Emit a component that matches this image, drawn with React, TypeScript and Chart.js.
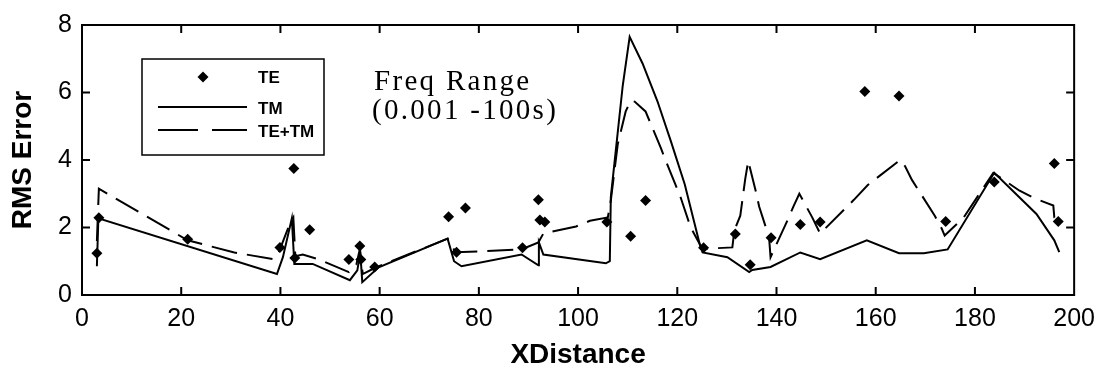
import React, { useEffect, useRef } from "react";
import { Chart, registerables } from "chart.js";

Chart.register(...registerables);

// Axis ticks
const X_TICKS = [0, 20, 40, 60, 80, 100, 120, 140, 160, 180, 200];
const Y_TICKS = [0, 2, 4, 6, 8];

// TE: individual RMS error markers
const TE_X = [3.0, 3.4, 21.3, 39.9, 42.7, 42.9, 45.9, 53.8, 56.0, 56.2, 59.0, 73.9, 75.5, 77.3, 88.8, 92.0, 92.3, 93.3, 105.8, 110.6, 113.6, 125.3, 131.7, 134.7, 138.9, 144.8, 148.8, 157.8, 164.7, 174.1, 183.9, 196.0, 196.8];
const TE_Y = [1.24, 2.29, 1.65, 1.41, 3.75, 1.1, 1.93, 1.05, 1.45, 1.05, 0.83, 2.32, 1.27, 2.58, 1.4, 2.82, 2.22, 2.16, 2.16, 1.74, 2.8, 1.4, 1.81, 0.9, 1.7, 2.09, 2.16, 6.03, 5.9, 2.18, 3.35, 3.9, 2.18];

// TM: solid line
const TM_X = [3.0, 3.3, 39.3, 40.5, 42.3, 42.8, 46.5, 54.0, 55.5, 56.1, 56.5, 59.8, 73.7, 75.0, 76.5, 88.6, 92.0, 92.1, 93.0, 105.6, 106.4, 106.6, 109.0, 110.4, 113.0, 116.0, 118.7, 121.5, 124.5, 125.1, 130.1, 134.5, 135.1, 138.8, 144.8, 148.8, 158.2, 164.7, 169.7, 174.5, 183.9, 192.4, 196.0, 197.0];
const TM_Y = [0.85, 2.27, 0.62, 1.12, 2.27, 0.92, 0.92, 0.44, 0.73, 1.25, 0.38, 0.82, 1.67, 1.0, 0.85, 1.2, 0.88, 1.56, 1.2, 0.94, 1.0, 2.9, 6.2, 7.65, 6.86, 5.74, 4.56, 3.28, 1.52, 1.26, 1.12, 0.68, 0.74, 0.83, 1.26, 1.06, 1.62, 1.24, 1.24, 1.35, 3.62, 2.4, 1.62, 1.27];

// TE+TM: dashed line
const TETM_X = [3.0, 3.4, 21.3, 30.7, 38.6, 39.5, 42.0, 42.6, 43.0, 44.5, 47.8, 53.8, 55.3, 56.0, 56.6, 59.0, 73.7, 75.3, 81.5, 88.6, 92.0, 93.0, 99.6, 102.4, 106.0, 106.6, 108.0, 109.6, 110.6, 111.4, 113.6, 116.7, 117.7, 120.7, 122.7, 125.0, 127.0, 131.1, 131.5, 132.7, 133.7, 134.3, 135.9, 136.5, 138.5, 138.8, 142.2, 143.4, 144.6, 147.2, 148.8, 155.6, 158.4, 164.9, 165.9, 167.3, 171.9, 173.3, 173.9, 177.7, 183.7, 189.0, 191.8, 195.8, 196.0, 196.8];
const TETM_Y = [1.6, 3.15, 1.62, 1.26, 1.06, 1.2, 2.15, 2.3, 1.15, 1.2, 1.05, 0.68, 0.9, 1.35, 0.62, 0.8, 1.67, 1.27, 1.3, 1.35, 1.56, 1.82, 2.03, 2.2, 2.3, 2.8, 4.47, 5.44, 5.76, 5.73, 5.44, 4.35, 3.97, 2.88, 2.0, 1.38, 1.38, 1.41, 1.91, 2.35, 3.44, 3.97, 3.03, 2.62, 1.71, 1.12, 2.21, 2.62, 3.0, 2.3, 1.82, 2.82, 3.26, 4.0, 3.82, 3.41, 2.35, 1.97, 1.76, 2.29, 3.62, 3.09, 2.88, 2.65, 2.3, 2.2];

const SANS = "'Liberation Sans', Arial, sans-serif";
const SERIF = "'Liberation Serif', 'Times New Roman', serif";

const pairs = (xs: number[], ys: number[]) => xs.map((x, i) => ({ x, y: ys[i] }));

// Boxed frame with inward ticks, inset legend and the range note
const decorPlugin = {
  id: "decor",
  afterDatasetsDraw(chart: any) {
    const { ctx, chartArea: a, scales } = chart;
    const xs = scales.x;
    const ys = scales.y;
    ctx.save();
    ctx.strokeStyle = "#000";
    ctx.lineWidth = 2;
    ctx.strokeRect(a.left, a.top, a.right - a.left, a.bottom - a.top);

    const T = 8;
    ctx.beginPath();
    X_TICKS.slice(1, -1).forEach((v) => {
      const px = xs.getPixelForValue(v);
      ctx.moveTo(px, a.bottom);
      ctx.lineTo(px, a.bottom - T);
      ctx.moveTo(px, a.top);
      ctx.lineTo(px, a.top + T);
    });
    Y_TICKS.slice(1, -1).forEach((v) => {
      const py = ys.getPixelForValue(v);
      ctx.moveTo(a.left, py);
      ctx.lineTo(a.left + T, py);
      ctx.moveTo(a.right, py);
      ctx.lineTo(a.right - T, py);
    });
    ctx.stroke();

    // legend box
    const bx = 142, by = 59, bw = 182, bh = 96;
    ctx.fillStyle = "#fff";
    ctx.fillRect(bx, by, bw, bh);
    ctx.lineWidth = 1.5;
    ctx.strokeRect(bx, by, bw, bh);

    ctx.fillStyle = "#000";
    const dx = 203, dy = 77, r = 5.5;
    ctx.beginPath();
    ctx.moveTo(dx, dy - r);
    ctx.lineTo(dx + r, dy);
    ctx.lineTo(dx, dy + r);
    ctx.lineTo(dx - r, dy);
    ctx.closePath();
    ctx.fill();

    ctx.lineWidth = 2;
    ctx.beginPath();
    ctx.moveTo(158, 107);
    ctx.lineTo(247, 107);
    ctx.stroke();
    ctx.setLineDash([40, 14]);
    ctx.beginPath();
    ctx.moveTo(158, 130);
    ctx.lineTo(247, 130);
    ctx.stroke();
    ctx.setLineDash([]);

    ctx.font = `bold 17px ${SANS}`;
    ctx.textAlign = "left";
    ctx.textBaseline = "middle";
    ctx.fillText("TE", 258, 78);
    ctx.fillText("TM", 258, 109);
    ctx.fillText("TE+TM", 258, 132);

    // frequency range note
    ctx.font = `29px ${SERIF}`;
    (ctx as any).letterSpacing = "2.3px";
    ctx.textBaseline = "alphabetic";
    ctx.fillText("Freq Range", 374, 90);
    ctx.fillText("(0.001 -100s)", 372, 119);
    (ctx as any).letterSpacing = "0px";
    ctx.restore();
  },
};

export default function App() {
  const canvasRef = useRef<HTMLCanvasElement | null>(null);

  useEffect(() => {
    if (!canvasRef.current) return;
    const chart = new Chart(canvasRef.current, {
      type: "scatter",
      data: {
        datasets: [
          {
            label: "TE",
            data: pairs(TE_X, TE_Y),
            showLine: false,
            pointStyle: "rectRot",
            pointRadius: 5.5,
            backgroundColor: "#000",
            borderWidth: 0,
          },
          {
            label: "TM",
            data: pairs(TM_X, TM_Y),
            showLine: true,
            borderColor: "#000",
            borderWidth: 2,
            pointRadius: 0,
            tension: 0,
          },
          {
            label: "TE+TM",
            data: pairs(TETM_X, TETM_Y),
            showLine: true,
            borderColor: "#000",
            borderWidth: 2,
            borderDash: [26, 10],
            pointRadius: 0,
            tension: 0,
          },
        ],
      },
      options: {
        animation: false,
        responsive: true,
        maintainAspectRatio: false,
        layout: { padding: { left: 0, right: 26, top: 23, bottom: 0 } },
        plugins: {
          legend: { display: false },
          tooltip: { enabled: false },
        },
        scales: {
          x: {
            type: "linear",
            min: 0,
            max: 200,
            afterBuildTicks: (s: any) => {
              s.ticks = X_TICKS.map((value) => ({ value }));
            },
            afterFit: (s: any) => {
              s.height = 77;
            },
            grid: { display: false, drawTicks: false },
            border: { display: false },
            ticks: {
              color: "#000",
              padding: 9,
              maxRotation: 0,
              autoSkip: false,
              font: { family: SANS, size: 25 },
            },
            title: {
              display: true,
              text: "XDistance",
              color: "#000",
              padding: { top: 0, bottom: 0 },
              font: { family: SANS, size: 28, weight: "bold" },
            },
          },
          y: {
            type: "linear",
            min: 0,
            max: 8,
            afterBuildTicks: (s: any) => {
              s.ticks = Y_TICKS.map((value) => ({ value }));
            },
            afterFit: (s: any) => {
              s.width = 82;
            },
            grid: { display: false, drawTicks: false },
            border: { display: false },
            ticks: {
              color: "#000",
              padding: 10,
              autoSkip: false,
              font: { family: SANS, size: 25 },
            },
            title: {
              display: true,
              text: "RMS Error",
              color: "#000",
              padding: { top: 6, bottom: 0 },
              font: { family: SANS, size: 28, weight: "bold" },
            },
          },
        },
      },
      plugins: [decorPlugin],
    });
    return () => chart.destroy();
  }, []);

  return (
    <div style={{ position: "absolute", left: 0, top: 0, width: 1104, height: 372, background: "#fff" }}>
      <canvas ref={canvasRef} />
    </div>
  );
}
